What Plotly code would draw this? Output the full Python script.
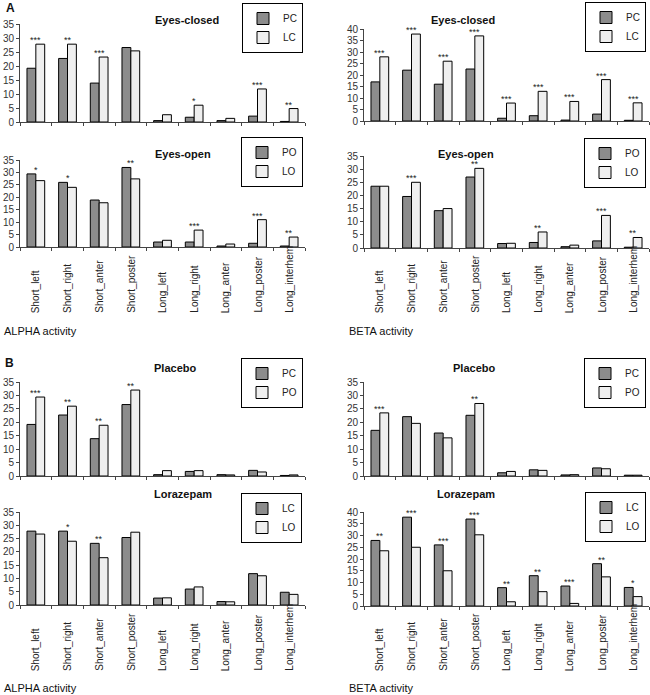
import plotly.graph_objects as go

W, H = 650, 695

categories = ["Short_left", "Short_right", "Short_anter", "Short_poster",
              "Long_left", "Long_right", "Long_anter", "Long_poster", "Long_interhem"]

# ALPHA activity
alpha_PC = [19.2, 22.7, 13.9, 26.6, 0.5, 1.7, 0.5, 2.1, 0.2]
alpha_LC = [27.8, 27.8, 23.2, 25.4, 2.6, 6.0, 1.3, 11.8, 4.8]
alpha_PO = [29.4, 26.0, 18.9, 32.0, 2.0, 2.0, 0.4, 1.5, 0.4]
alpha_LO = [26.7, 24.0, 17.8, 27.4, 2.7, 6.8, 1.2, 11.0, 4.0]
# BETA activity
beta_PC = [17.0, 22.1, 16.0, 22.6, 1.2, 2.3, 0.4, 3.0, 0.3]
beta_LC = [27.9, 37.8, 26.0, 37.0, 7.8, 12.9, 8.5, 18.0, 7.9]
beta_PO = [23.5, 19.6, 14.2, 27.0, 1.7, 2.1, 0.5, 2.7, 0.3]
beta_LO = [23.5, 25.0, 15.0, 30.3, 1.8, 6.1, 1.1, 12.4, 4.0]

# significance marks
alpha_closed_sig = ["***", "**", "***", "", "", "*", "", "***", "**"]
beta_closed_sig = ["***", "***", "***", "***", "***", "***", "***", "***", "***"]
alpha_open_sig = ["*", "*", "", "**", "", "***", "", "***", "**"]
beta_open_sig = ["", "***", "", "**", "", "**", "", "***", "**"]
alpha_placebo_sig = ["***", "**", "**", "**", "", "", "", "", ""]
beta_placebo_sig = ["***", "", "", "**", "", "", "", "", ""]
alpha_loraz_sig = ["", "*", "**", "", "", "", "", "", ""]
beta_loraz_sig = ["**", "***", "***", "***", "**", "**", "***", "**", "*"]

DARK = "#8c8c8c"
LIGHT = "#efefef"
FONT = "Liberation Sans, Arial, sans-serif"

panels = [
    dict(v=(alpha_PC, alpha_LC), n=("PC", "LC"), sig=alpha_closed_sig, title="Eyes-closed",
         x0=20, x1=305, yt=24, yb=122, ymax=35, leg=(303, 3), tx=153, ty=12, labels=None),
    dict(v=(beta_PC, beta_LC), n=("PC", "LC"), sig=beta_closed_sig, title="Eyes-closed",
         x0=364, x1=649, yt=29, yb=121, ymax=40, leg=(646, 2), tx=497, ty=12, labels=None),
    dict(v=(alpha_PO, alpha_LO), n=("PO", "LO"), sig=alpha_open_sig, title="Eyes-open",
         x0=20, x1=305, yt=160, yb=247, ymax=35, leg=(303, 137), tx=153, ty=146, labels=315),
    dict(v=(beta_PO, beta_LO), n=("PO", "LO"), sig=beta_open_sig, title="Eyes-open",
         x0=364, x1=649, yt=156, yb=248, ymax=35, leg=(646, 138), tx=496, ty=146, labels=315),
    dict(v=(alpha_PC, alpha_PO), n=("PC", "PO"), sig=alpha_placebo_sig, title="Placebo",
         x0=20, x1=305, yt=382, yb=476, ymax=35, leg=(303, 358), tx=152, ty=368, labels=None),
    dict(v=(beta_PC, beta_PO), n=("PC", "PO"), sig=beta_placebo_sig, title="Placebo",
         x0=364, x1=649, yt=382, yb=476, ymax=35, leg=(646, 358), tx=497, ty=368, labels=None),
    dict(v=(alpha_LC, alpha_LO), n=("LC", "LO"), sig=alpha_loraz_sig, title="Lorazepam",
         x0=20, x1=305, yt=512, yb=605, ymax=35, leg=(302, 493), tx=152, ty=502, labels=673),
    dict(v=(beta_LC, beta_LO), n=("LC", "LO"), sig=beta_loraz_sig, title="Lorazepam",
         x0=364, x1=649, yt=512, yb=606, ymax=40, leg=(646, 492), tx=497, ty=502, labels=673),
]

fig = go.Figure()
annotations = []
layout = dict(
    width=W, height=H, margin=dict(l=0, r=0, t=0, b=0, autoexpand=False),
    paper_bgcolor="white", plot_bgcolor="white",
    barmode="group", bargap=0.44, bargroupgap=0,
    font=dict(family=FONT, size=10, color="#222"),
)

def fx(x):
    return x / W

def fy(y):
    return 1 - y / H

for i, p in enumerate(panels, start=1):
    sfx = "" if i == 1 else str(i)
    xa, ya = "x" + sfx, "y" + sfx
    lg = "legend" + sfx
    for vals, name, col in zip(p["v"], p["n"], (DARK, LIGHT)):
        fig.add_trace(go.Bar(
            x=categories, y=vals, name=name, xaxis=xa, yaxis=ya, legend=lg,
            marker=dict(color=col, line=dict(color="black", width=1)),
            hoverinfo="skip"))
    layout["xaxis" + sfx] = dict(
        domain=[fx(p["x0"]), fx(p["x1"])], anchor=ya, type="category",
        showline=True, linecolor="#444", linewidth=1, ticks="outside",
        tickson="boundaries", ticklen=3, tickcolor="#444",
        showticklabels=False, showgrid=False, zeroline=False, fixedrange=True)
    layout["yaxis" + sfx] = dict(
        domain=[fy(p["yb"]), fy(p["yt"])], anchor=xa, range=[0, p["ymax"]],
        dtick=5, showline=True, linecolor="#444", linewidth=1, ticks="outside",
        ticklen=3, tickcolor="#444", showgrid=False, zeroline=False,
        tickfont=dict(size=10, color="#333"), fixedrange=True)
    layout[lg] = dict(
        x=fx(p["leg"][0]), y=fy(p["leg"][1]), xanchor="right", yanchor="top",
        xref="paper", yref="paper", bordercolor="black", borderwidth=1,
        bgcolor="white", font=dict(size=10, color="#222"), itemwidth=30,
        tracegroupgap=0)
    annotations.append(dict(
        text="<b>%s</b>" % p["title"], x=fx(p["tx"]), y=fy(p["ty"]),
        xref="paper", yref="paper", showarrow=False,
        font=dict(size=11, color="#111")))
    for c, a, b, s in zip(categories, p["v"][0], p["v"][1], p["sig"]):
        if s:
            annotations.append(dict(
                text=s, x=c, y=max(a, b), xref=xa, yref=ya, yanchor="bottom",
                yshift=-3, showarrow=False, font=dict(size=9, color="#222")))
    if p["labels"] is not None:
        for c in categories:
            annotations.append(dict(
                text=c, x=c, y=fy(p["labels"]), xref=xa, yref="paper",
                yanchor="bottom", xanchor="center", textangle=-90,
                showarrow=False, font=dict(size=10, color="#222")))

# section letters and band labels
for txt, x, y, bold, size in [
    ("A", 4, 8, True, 12), ("B", 3, 363, True, 12),
    ("ALPHA activity", 2, 331, False, 11), ("BETA activity", 347, 331, False, 11),
    ("ALPHA activity", 2, 688, False, 11), ("BETA activity", 347, 688, False, 11),
]:
    annotations.append(dict(
        text=("<b>%s</b>" % txt) if bold else txt, x=fx(x), y=fy(y),
        xref="paper", yref="paper", xanchor="left", yanchor="middle",
        showarrow=False, font=dict(size=size, color="#111")))

layout["annotations"] = annotations
fig.update_layout(**layout)
fig.write_html("out.html", config={"displayModeBar": False},
               post_script="document.body.style.margin='0';document.body.style.overflow='hidden';")
